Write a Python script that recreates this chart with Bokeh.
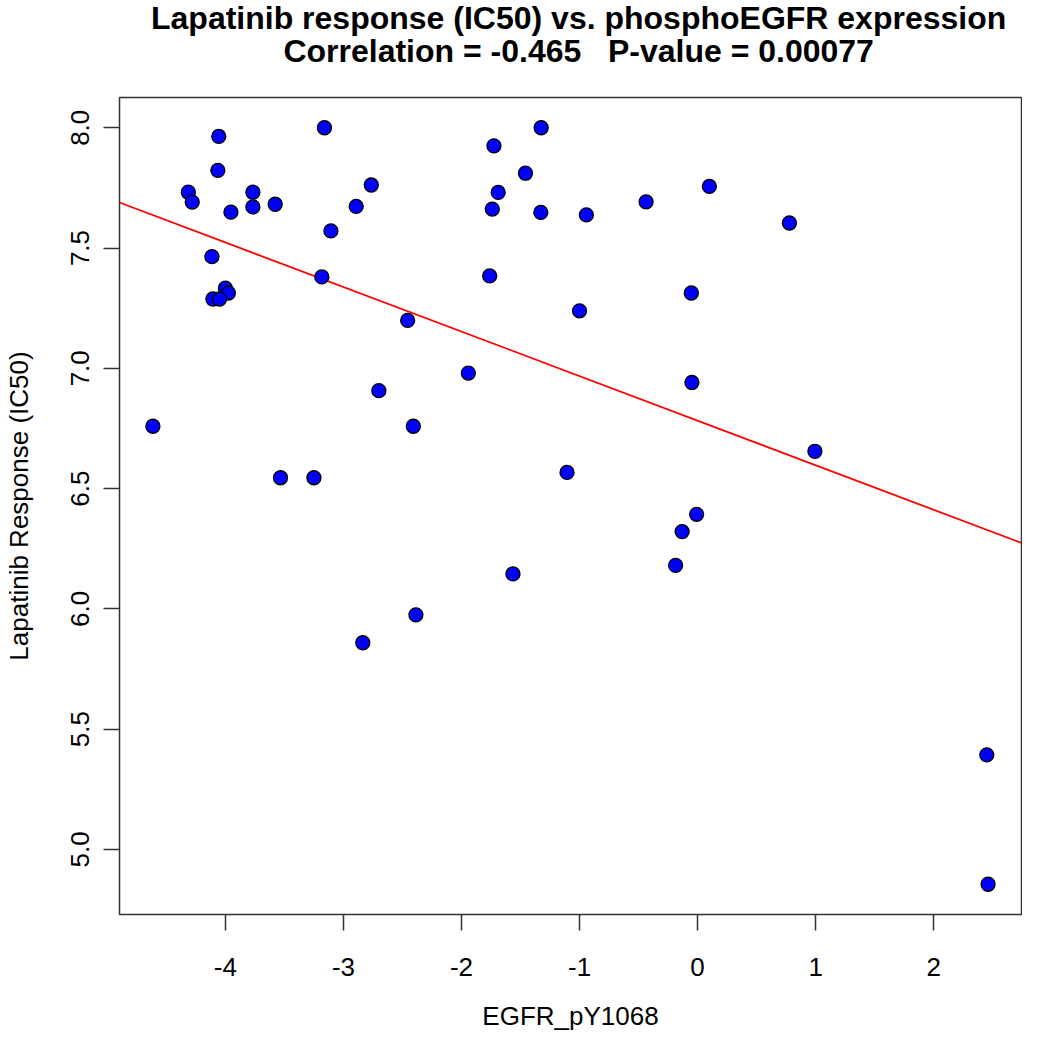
import numpy as np
from bokeh.plotting import figure
from bokeh.models import Range1d, FixedTicker, Div, CustomJSTickFormatter
from bokeh.layouts import column
from bokeh.embed import file_html
from bokeh.resources import INLINE

# ---- data ----
egfr_py1068 = [
    -4.056, -3.161, -4.064, -4.314, -4.281, -3.767, -3.767, -3.578, -3.953, -2.764,
    -2.892, -3.106, -4.114, -3.183, -4.000, -3.975, -4.106, -4.050, -2.456, -2.700,
    -4.614, -2.408, -1.325, -1.725, -1.458, -1.689, -1.739, -1.328, -0.942, -0.436,
    0.100, 0.778, -1.761, -0.053, -1.000, -1.942, -0.048, -3.533, -3.250, -1.564,
    -2.386, -2.836, 0.994, -1.106, -0.008, -0.131, -0.186, 2.450, 2.461,
]
lapatinib_ic50 = [
    7.964, 8.000, 7.823, 7.732, 7.691, 7.732, 7.671, 7.682, 7.649, 7.762,
    7.673, 7.571, 7.464, 7.380, 7.333, 7.313, 7.288, 7.288, 7.199, 6.907,
    6.759, 6.759, 8.000, 7.925, 7.811, 7.731, 7.662, 7.648, 7.638, 7.692,
    7.756, 7.604, 7.384, 7.313, 7.239, 6.980, 6.941, 6.545, 6.545, 6.145,
    5.975, 5.859, 6.655, 6.567, 6.393, 6.321, 6.181, 5.393, 4.855,
]
x_ticks = [-4, -3, -2, -1, 0, 1, 2]
y_ticks = [5.0, 5.5, 6.0, 6.5, 7.0, 7.5, 8.0]
title_line1 = "Lapatinib response (IC50) vs. phosphoEGFR expression"
title_line2 = "Correlation = -0.465\u00a0\u00a0\u00a0P-value = 0.00077"
x_label = "EGFR_pY1068"
y_label = "Lapatinib Response (IC50)"

x = np.array(egfr_py1068)
y = np.array(lapatinib_ic50)

# R-style axis ranges (4% padding)
xr = x.max() - x.min()
yr = y.max() - y.min()
x0, x1 = x.min() - 0.04 * xr, x.max() + 0.04 * xr
y0, y1 = y.min() - 0.04 * yr, y.max() + 0.04 * yr

FONT = "Liberation Sans"
W = 1022
TITLE_H = 95
FIG_H = 1034 - TITLE_H

title_div = Div(
    text=(
        "<div style=\"font-family:'Liberation Sans',Arial,sans-serif;"
        "font-weight:bold;font-size:32px;line-height:33px;color:#000;"
        "text-align:center;padding:2px 0 0 151px;white-space:nowrap;\">"
        + title_line1 + "<br>" + title_line2 + "</div>"
    ),
    width=W, height=TITLE_H, margin=(0, 0, 0, 0),
)

p = figure(
    width=W, height=FIG_H,
    x_range=Range1d(x0, x1), y_range=Range1d(y0, y1),
    output_backend="svg", toolbar_location=None,
    min_border_left=117, min_border_right=1,
    min_border_top=2, min_border_bottom=120,
    background_fill_color="white", border_fill_color="white",
    margin=(0, 0, 0, 0),
)
p.title = None
p.xgrid.visible = False
p.ygrid.visible = False
p.outline_line_color = "#333333"
p.outline_line_width = 1.5

for ax in (p.xaxis[0], p.yaxis[0]):
    ax.axis_line_color = None
    ax.major_tick_out = 16
    ax.major_tick_in = 0
    ax.minor_tick_line_color = None
    ax.major_tick_line_color = "#333333"
    ax.major_tick_line_width = 1.5
    ax.major_label_text_font = FONT
    ax.major_label_text_font_size = "26px"
    ax.major_label_text_color = "black"
    ax.axis_label_text_font = FONT
    ax.axis_label_text_font_size = "26px"
    ax.axis_label_text_font_style = "normal"
    ax.axis_label_text_color = "black"

p.xaxis.ticker = FixedTicker(ticks=x_ticks)
p.yaxis.ticker = FixedTicker(ticks=y_ticks)
p.yaxis.formatter = CustomJSTickFormatter(code="return tick.toFixed(1);")
p.xaxis.formatter = CustomJSTickFormatter(code="return tick.toFixed(0);")
p.yaxis.major_label_orientation = "vertical"
p.xaxis.axis_label = x_label
p.yaxis.axis_label = y_label
p.xaxis.major_label_standoff = 27
p.xaxis.axis_label_standoff = 22
p.yaxis.major_label_standoff = 14
p.yaxis.axis_label_standoff = 35

# regression line (least squares fit), drawn across the full x range
slope, intercept = np.polyfit(x, y, 1)
lx = np.array([x0, x1])
p.line(lx, intercept + slope * lx, line_color="#ff0000", line_width=1.8)

p.scatter(x, y, size=14, marker="circle", fill_color="#0000ff",
          line_color="black", line_width=1.3)

layout = column(title_div, p, spacing=0)
open("out.html", "w").write(file_html(layout, INLINE))
